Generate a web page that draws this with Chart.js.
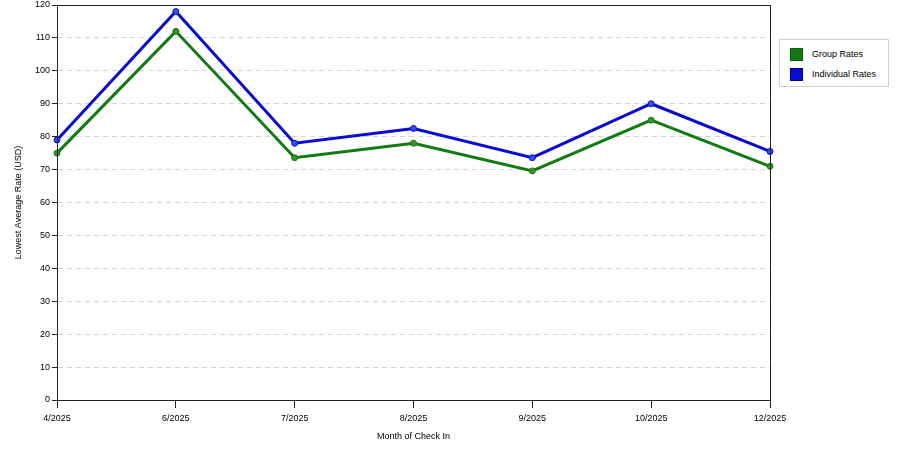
<!DOCTYPE html>
<html>
<head>
<meta charset="utf-8">
<script src="https://cdn.jsdelivr.net/npm/chart.js@4/dist/chart.umd.min.js"></script>
<style>
  html, body { margin: 0; padding: 0; background: #fff; }
  #wrap { position: relative; width: 900px; height: 450px; }
  #legend {
    position: absolute; left: 779px; top: 39px; width: 108px; height: 46px;
    border: 1px solid #d0d0d0; background: #fff;
    font: 9px "Liberation Sans", Arial, sans-serif; color: #000;
  }
  #legend .item { position: absolute; left: 10px; height: 12px; line-height: 12px; }
  #legend .sw { display: inline-block; width: 11px; height: 11px; vertical-align: top; margin-right: 9px; }
</style>
</head>
<body>
<div id="wrap">
  <canvas id="canvasChart" width="900" height="450"></canvas>
  <div id="legend"></div>
</div>
<script>
const months = ['4/2025', '6/2025', '7/2025', '8/2025', '9/2025', '10/2025', '12/2025']
const groupRates = [75, 112, 73.6, 78, 69.6, 85, 71]
const individualRates = [79, 118, 78, 82.5, 73.6, 90, 75.5]
const seriesNames = ['Group Rates', 'Individual Rates']
const seriesColors = ['#117a11', '#0a0ad0']
const pointColors = ['#3d8f2a', '#2a55e8']

const fontSpec = {family: '"Liberation Sans", Arial, sans-serif', size: 9}

// box round the plot area
const frame = {
  id: 'frame',
  afterDraw(chart) {
    const a = chart.chartArea
    const c = chart.ctx
    c.save()
    c.strokeStyle = '#222'
    c.lineWidth = 1
    c.strokeRect(a.left + 0.5, a.top + 0.5, a.right - a.left, a.bottom - a.top)
    c.restore()
  }
}

const data = {
  labels: months,
  datasets: [groupRates, individualRates].map((vals, i) => ({
    label: seriesNames[i],
    data: vals,
    borderColor: seriesColors[i],
    backgroundColor: pointColors[i],
    pointBackgroundColor: pointColors[i],
    pointBorderColor: seriesColors[i],
    pointBorderWidth: 1,
    pointRadius: 3,
    borderWidth: 3,
    tension: 0,
    fill: false
  }))
}

let config = {
  type: 'line',
  data: data,
  plugins: [frame],
  options: {
    responsive: false,
    animation: false,
    layout: {padding: {left: 0, right: 130, top: 5, bottom: 0}},
    plugins: {
      legend: {display: false},
      tooltip: {enabled: false}
    },
    scales: {
      x: {
        offset: false,
        afterFit: s => { s.height = 50 },
        ticks: {color: '#000', font: fontSpec, padding: 5, maxRotation: 0, autoSkip: false},
        grid: {drawOnChartArea: false, tickLength: 8, tickColor: '#222'},
        border: {color: '#222', width: 1},
        title: {display: true, text: 'Month of Check In', color: '#000', font: fontSpec, padding: {top: 5, bottom: 8}}
      },
      y: {
        min: 0,
        max: 120,
        afterFit: s => { s.width = 57; s.paddingTop = 0 },
        ticks: {stepSize: 10, color: '#000', font: fontSpec, padding: 2},
        grid: {
          tickLength: 5,
          tickColor: '#222',
          color: ctx => (ctx.tick && (ctx.tick.value === 0 || ctx.tick.value === 120)) ? 'rgba(0,0,0,0)' : '#d6d6d6',
          lineWidth: 1
        },
        border: {color: '#222', width: 1, dash: [5, 4]},
        title: {display: true, text: 'Lowest Average Rate (USD)', color: '#000', font: fontSpec, padding: {top: 13, bottom: 6}}
      }
    }
  }
}

let ctx = document.getElementById('canvasChart').getContext('2d')
let canvasChart = new Chart(ctx, config)

// legend as html text
const legendBox = document.getElementById('legend')
seriesNames.forEach((name, i) => {
  const row = document.createElement('div')
  row.className = 'item'
  row.style.top = (8 + i * 20) + 'px'
  const sw = document.createElement('span')
  sw.className = 'sw'
  sw.style.background = seriesColors[i]
  sw.style.border = '1px solid ' + (i === 0 ? '#0b5e0b' : '#00009a')
  row.appendChild(sw)
  row.appendChild(document.createTextNode(name))
  legendBox.appendChild(row)
})
</script>
</body>
</html>
